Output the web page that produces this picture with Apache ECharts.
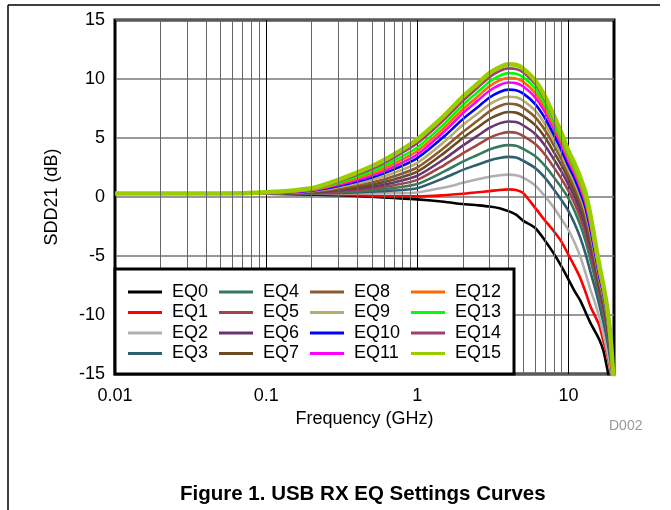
<!DOCTYPE html>
<html>
<head>
<meta charset="utf-8">
<script src="https://cdn.jsdelivr.net/npm/echarts@6/dist/echarts.min.js"></script>
<style>
html,body{margin:0;padding:0;background:#fff;}
#chart{width:671px;height:510px;}
</style>
</head>
<body>
<div id="chart"></div>
<script>
// ---- data ----
var freqs = [0.01,0.02,0.05,0.1,0.2,0.3,0.5,0.7,1,1.5,2,2.5,3,3.5,4,4.5,5,6,7,8,9,10,11,12,13,14,15,16,17,18,19,20];
var seriesNames = ['EQ0','EQ1','EQ2','EQ3','EQ4','EQ5','EQ6','EQ7','EQ8','EQ9','EQ10','EQ11','EQ12','EQ13','EQ14','EQ15'];
var eq0 = [0.3,0.3,0.3,0.28,0.2,0.15,0.02,-0.08,-0.2,-0.4,-0.6,-0.7,-0.8,-0.95,-1.2,-1.5,-2.0,-2.6,-3.7,-4.8,-5.9,-7.0,-8.0,-8.8,-9.8,-10.7,-11.4,-12.1,-13.0,-14.5,-16.0,-17.0];
var eq1 = [0.3,0.3,0.3,0.3,0.25,0.2,0.1,0.05,0.05,0.15,0.27,0.4,0.5,0.6,0.65,0.6,0.35,-0.9,-2.0,-2.9,-3.8,-4.9,-5.9,-6.9,-8.1,-9.3,-10.1,-10.9,-12.2,-13.3,-14.8,-16.5];
var eq2 = [0.3,0.3,0.3,0.3,0.3,0.3,0.3,0.32,0.38,0.8,1.2,1.5,1.72,1.85,1.9,1.85,1.65,1.0,0.05,-0.9,-1.9,-2.8,-3.9,-5.1,-6.5,-7.9,-9.0,-10.2,-11.6,-13.0,-14.5,-16.2];
var eq3 = [0.3,0.3,0.3,0.3,0.32,0.35,0.44,0.55,0.75,1.6,2.3,2.74,3.1,3.31,3.4,3.35,3.08,2.47,1.62,0.64,-0.28,-1.19,-2.29,-3.49,-4.87,-6.39,-7.75,-9.17,-10.59,-12.09,-13.9,-16.2];
var eq4 = [0.3,0.3,0.3,0.3,0.34,0.41,0.56,0.76,1.1,2.15,3.0,3.56,4.02,4.29,4.4,4.35,4.08,3.48,2.64,1.68,0.78,-0.12,-1.22,-2.42,-3.78,-5.38,-6.92,-8.48,-9.92,-11.48,-13.5,-16.1];
var eq5 = [0.3,0.3,0.3,0.3,0.36,0.48,0.71,0.99,1.45,2.69,3.7,4.42,5.01,5.35,5.5,5.45,5.18,4.51,3.58,2.51,1.52,0.52,-0.58,-1.78,-3.13,-4.78,-6.43,-8.07,-9.52,-11.12,-13.26,-16.1];
var eq6 = [0.3,0.3,0.3,0.3,0.39,0.56,0.87,1.23,1.8,3.2,4.35,5.18,5.85,6.24,6.4,6.35,6.08,5.36,4.35,3.2,2.13,1.05,-0.05,-1.25,-2.59,-4.28,-6.01,-7.73,-9.18,-10.81,-13.06,-16.1];
var eq7 = [0.3,0.3,0.3,0.3,0.42,0.63,1.04,1.48,2.15,3.72,5.0,5.89,6.61,7.02,7.2,7.15,6.88,6.11,5.04,3.81,2.67,1.52,0.42,-0.78,-2.11,-3.84,-5.65,-7.43,-8.89,-10.55,-12.89,-16.0];
var eq8 = [0.3,0.3,0.3,0.31,0.45,0.72,1.22,1.75,2.5,4.15,5.5,6.46,7.25,7.71,7.9,7.85,7.58,6.78,5.65,4.37,3.16,1.96,0.86,-0.34,-1.67,-3.43,-5.31,-7.15,-8.62,-10.3,-12.72,-16.0];
var eq9 = [0.3,0.3,0.3,0.32,0.49,0.82,1.44,2.04,2.9,4.66,6.1,7.06,7.85,8.31,8.5,8.45,8.18,7.34,6.16,4.81,3.55,2.29,1.19,-0.01,-1.33,-3.11,-5.05,-6.93,-8.41,-10.11,-12.6,-16.0];
var eq10 = [0.3,0.3,0.3,0.33,0.53,0.93,1.65,2.34,3.3,5.12,6.6,7.6,8.43,8.9,9.1,9.05,8.78,7.9,6.67,5.26,3.95,2.63,1.53,0.33,-0.99,-2.8,-4.79,-6.72,-8.2,-9.92,-12.47,-16.0];
var eq11 = [0.3,0.3,0.3,0.34,0.57,1.03,1.82,2.58,3.6,5.53,7.1,8.15,9.0,9.49,9.7,9.65,9.38,8.47,7.2,5.75,4.39,3.03,1.93,0.73,-0.58,-2.42,-4.48,-6.46,-7.95,-9.69,-12.32,-16.0];
var eq12 = [0.3,0.3,0.3,0.35,0.61,1.13,1.99,2.82,3.9,5.84,7.43,8.5,9.38,9.88,10.1,10.05,9.78,8.85,7.54,6.05,4.66,3.26,2.16,0.96,-0.35,-2.2,-4.29,-6.31,-7.8,-9.56,-12.24,-16.0];
var eq13 = [0.3,0.3,0.3,0.36,0.65,1.22,2.17,3.07,4.2,6.18,7.8,8.88,9.77,10.28,10.5,10.45,10.18,9.22,7.89,6.36,4.93,3.5,2.4,1.2,-0.11,-1.98,-4.11,-6.16,-7.65,-9.43,-12.15,-16.0];
var eq14 = [0.3,0.3,0.3,0.38,0.7,1.32,2.38,3.34,4.55,6.54,8.16,9.26,10.16,10.68,10.9,10.85,10.58,9.6,8.23,6.66,5.2,3.73,2.63,1.43,0.13,-1.76,-3.93,-6.01,-7.5,-9.3,-12.06,-16.0];
var eq15 = [0.3,0.3,0.3,0.4,0.75,1.45,2.6,3.6,4.9,6.88,8.5,9.6,10.5,11.0,11.25,11.2,10.9,9.9,8.5,6.9,5.4,3.9,2.8,1.6,0.3,-1.6,-3.8,-5.8,-7.5,-9.3,-12.0,-16.0];
var xTickValues = [0.01, 0.1, 1, 10];
var xTickLabels = ['0.01', '0.1', '1', '10'];
var minorFreqs = [0.02,0.03,0.04,0.05,0.06,0.07,0.08,0.09,0.2,0.3,0.4,0.5,0.6,0.7,0.8,0.9,2,3,4,5,6,7,8,9];

// ---- styles ----
var allValues = [eq0,eq1,eq2,eq3,eq4,eq5,eq6,eq7,eq8,eq9,eq10,eq11,eq12,eq13,eq14,eq15];
var colors = ['#000000','#ff0000','#b0b0b0','#2e5e70','#357a5c','#a34545','#6a3472','#6b4a24','#8b5a2e','#b4ad6c','#0000ff','#ff00ff','#ff6a00','#00ff00','#9e3f72','#9acd00'];
var FONT = '"Liberation Sans", Arial, sans-serif';

var series = [{
  name: '_grid', type: 'line', data: [], z: 1, silent: true,
  markLine: {
    symbol: ['none','none'], silent: true, animation: false,
    label: {show: false},
    lineStyle: {color: '#666', width: 1, type: 'solid'},
    data: minorFreqs.map(function(v){ return {xAxis: v}; })
  }
}];
allValues.forEach(function(vals, i){
  series.push({
    name: seriesNames[i], type: 'line', showSymbol: false, smooth: 0.25,
    z: 2 + i * 0.01,
    lineStyle: {width: i === 15 ? 4.5 : 2.6, color: colors[i]},
    itemStyle: {color: colors[i]},
    data: freqs.map(function(f, j){ return [f, vals[j]]; })
  });
});

var colLeft = [123, 214, 305, 406];
var legends = [0,1,2,3].map(function(c){
  return {
    data: seriesNames.slice(c*4, c*4+4),
    orient: 'vertical', left: colLeft[c], top: 278,
    itemWidth: 34, itemHeight: 3, itemGap: 2.5, icon: 'rect',
    textStyle: {fontFamily: FONT, fontSize: 18, color: '#000', padding: [0,0,0,5]},
    selectedMode: false, z: 20
  };
});

var chart = echarts.init(document.getElementById('chart'));
chart.setOption({
  animation: false,
  backgroundColor: '#fff',
  grid: {left: 115, top: 20, right: 57, bottom: 136, show: true, borderColor: '#000', borderWidth: 3, backgroundColor: 'transparent'},
  xAxis: {
    type: 'log', logBase: 10, min: 0.01, max: 20,
    name: 'Frequency (GHz)', nameLocation: 'middle', nameGap: 33,
    nameTextStyle: {fontFamily: FONT, fontSize: 18, color: '#000'},
    axisLine: {show: false}, axisTick: {show: false},
    axisLabel: {
      fontFamily: FONT, fontSize: 18, color: '#000', margin: 13, showMaxLabel: false,
      formatter: function(v){
        for (var k = 0; k < xTickValues.length; k++) {
          if (Math.abs(Math.log10(v) - Math.log10(xTickValues[k])) < 1e-6) return xTickLabels[k];
        }
        return '';
      }
    },
    splitLine: {show: true, lineStyle: {color: '#000', width: 1}}
  },
  yAxis: {
    type: 'value', min: -15, max: 15, interval: 5,
    name: 'SDD21 (dB)', nameLocation: 'middle', nameGap: 54,
    nameTextStyle: {fontFamily: FONT, fontSize: 18, color: '#000'},
    axisLine: {show: false}, axisTick: {show: false},
    axisLabel: {fontFamily: FONT, fontSize: 18, color: '#000', margin: 10},
    splitLine: {show: true, lineStyle: {color: '#777', width: 1.5}}
  },
  legend: legends,
  series: series,
  graphic: [
    {type: 'rect', z: 10, shape: {x: 115, y: 269, width: 399, height: 105},
     style: {fill: '#fff', stroke: '#000', lineWidth: 3}},
    {type: 'line', z: 10, shape: {x1: 8, y1: 5, x2: 660, y2: 5}, style: {stroke: '#000', lineWidth: 1.5}},
    {type: 'line', z: 10, shape: {x1: 8, y1: 5, x2: 8, y2: 510}, style: {stroke: '#000', lineWidth: 1.5}},
    {type: 'text', z: 10, left: 609, top: 419,
     style: {text: 'D002', fontFamily: FONT, fontSize: 14, fill: '#999'}},
    {type: 'text', z: 10, left: 180, top: 484,
     style: {text: 'Figure 1. USB RX EQ Settings Curves', fontFamily: FONT, fontSize: 20.5, fontWeight: 'bold', fill: '#000'}}
  ]
});
</script>
</body>
</html>
